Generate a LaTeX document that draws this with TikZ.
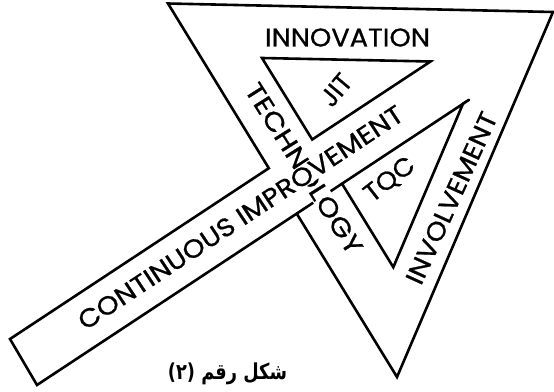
\documentclass[tikz,border=0pt]{standalone}
\usepackage{fontspec}
\usepackage{graphicx}
\newfontfamily\labelfont[FakeBold=0.8]{Poppins}
\newfontfamily\arabicfont[Script=Arabic]{DejaVu Sans}
\TeXXeTstate=1

\tikzset{
  outline/.style={line width=2.6pt, line join=miter, line cap=round},
  word/.style={font=\labelfont, inner sep=0pt, text=black},
  masked word/.style={word, fill=white, inner sep=1.2pt},
}

\begin{document}
\begin{tikzpicture}[x=1pt, y=-1pt]
  \useasboundingbox (0,0) rectangle (554,391);

  % big inverted triangle
  \coordinate (A) at (168,3.5);
  \coordinate (B) at (553,12);
  \coordinate (C) at (397,377);
  % band running out to the lower left
  \coordinate (P1) at (268.8,168.2);
  \coordinate (P2) at (296.7,213.6);
  \coordinate (E1) at (10,339);
  \coordinate (E2) at (37,385);
  % upper inner triangle
  \coordinate (J1) at (262,58);
  \coordinate (J2) at (312.2,139.5);
  \coordinate (J3) at (430.5,61.5);
  % lower inner triangle
  \coordinate (T1) at (342,183.7);
  \coordinate (T2) at (393.3,267.2);
  \coordinate (T3) at (463,103.8);
  \coordinate (T3x) at (469,99.8);

  % outline of triangle and band
  \draw[outline] (A) -- (B) -- (C) -- (P2) -- (E2) -- (E1) -- (P1) -- cycle;
  % band edge carried across under the word
  \draw[outline] (P2) -- (T1);
  % inner triangles
  \draw[outline] (J1) -- (J3) -- (J2) -- cycle;
  \draw[outline] (T1) -- (T2) -- (T3) -- cycle;
  \draw[outline] (T3) -- (T3x);

  % labels
  \node[word] (innov) at (347.5,37.5) {\resizebox{165pt}{18pt}{INNOVATION}};
  \node[word, rotate=50] (jit) at (336,90) {\resizebox{34pt}{18pt}{JIT}};
  \node[word, rotate=38] (tqc) at (390,180) {\resizebox{57pt}{18pt}{TQC}};
  \node[word, rotate=65.5] (invol) at (451.5,198) {\resizebox{186pt}{18pt}{INVOLVEMENT}};
  \node[masked word, rotate=-57.8] (tech) at (304,168.5) {\resizebox{197pt}{18pt}{TECHNOLOGY}};
  \node[masked word, rotate=33.5] (ci) at (240.5,217.5) {\resizebox{384pt}{18pt}{CONTINUOUS IMPROVEMENT}};

  % caption
  \node[inner sep=0pt] (cap) at (227.5,373.5)
    {\resizebox*{119pt}{22pt}{\arabicfont\bfseries\beginR شكل رقم (٢)\endR}};
\end{tikzpicture}
\end{document}
